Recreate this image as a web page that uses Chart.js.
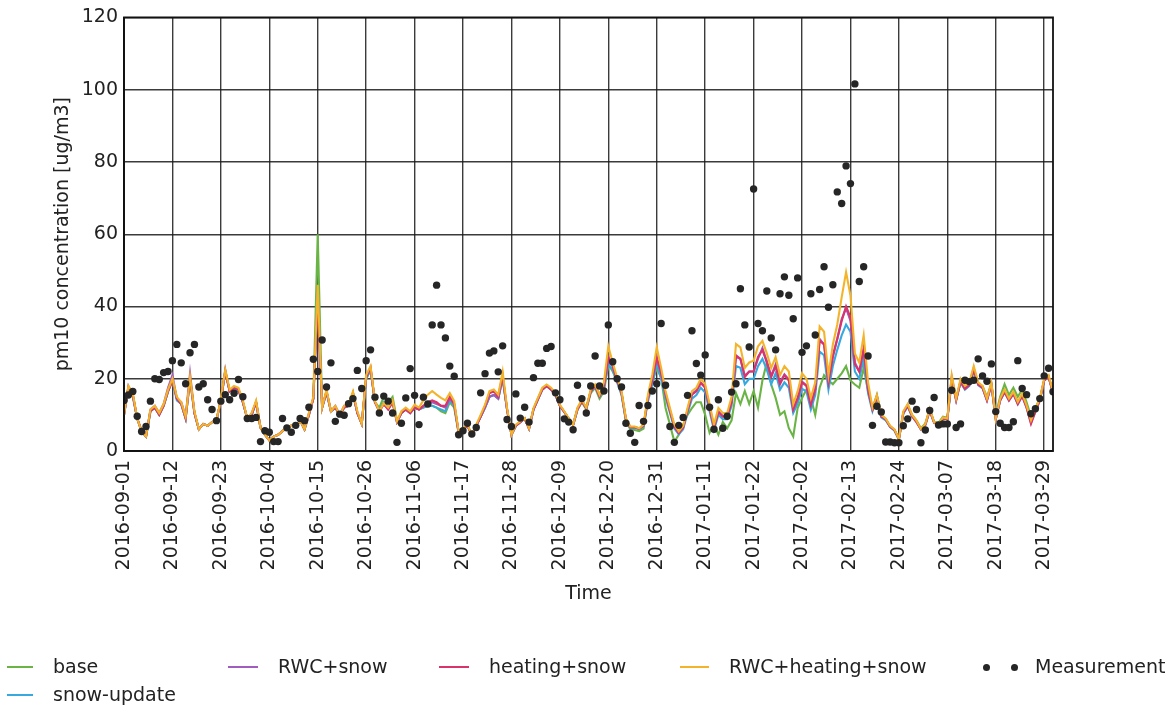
<!DOCTYPE html>
<html>
<head>
<meta charset="utf-8">
<title>PM10 concentration</title>
<script src="https://cdn.jsdelivr.net/npm/chart.js@4/dist/chart.umd.min.js"></script>
<style>
  html, body { margin: 0; padding: 0; background: #fff; }
  #wrap { position: relative; width: 1174px; height: 707px; overflow: hidden; }
  #chart { position: absolute; left: 0; top: 0; }
  .lg { position: absolute; font-family: "DejaVu Sans", sans-serif; font-size: 19px; color: #222; line-height: 22px; white-space: nowrap; }
  .lgline { position: absolute; height: 0; border-top: 2px solid; }
  .lgdot { position: absolute; width: 7px; height: 7px; border-radius: 50%; background: #262626; }
</style>
</head>
<body>
<div id="wrap">
  <canvas id="chart" width="1174" height="707"></canvas>
  <div id="legend"></div>
</div>
<script>
// Daily PM10 concentrations, 2016-09-01 .. 2017-03-31 (day index 0..211)
const startDate = '2016-09-01';
const tickLabels = [
  '2016-09-01', '2016-09-12', '2016-09-23', '2016-10-04', '2016-10-15',
  '2016-10-26', '2016-11-06', '2016-11-17', '2016-11-28', '2016-12-09',
  '2016-12-20', '2016-12-31', '2017-01-11', '2017-01-22', '2017-02-02',
  '2017-02-13', '2017-02-24', '2017-03-07', '2017-03-18', '2017-03-29'
];
const tickStepDays = 11;
const yTicks = [0, 20, 40, 60, 80, 100, 120];

const base = [
  10, 17.5, 15.5, 9, 5.5, 4, 11, 12, 10, 12.5,
  16.5, 19.5, 14.5, 13, 9, 20, 10.5, 6, 7.5, 7,
  8, 8.5, 14, 22, 16.5, 17.5, 17, 13.5, 9, 10,
  13.5, 6.5, 4.5, 3, 4, 4.5, 5.5, 6.5, 7, 6.5,
  8.5, 6, 10, 14.5, 60, 12, 16.5, 11, 12, 10,
  12, 12.5, 16, 10.5, 7.5, 20, 22.5, 13.5, 12, 15,
  13.5, 15, 8.5, 10.5, 11.5, 10.5, 12, 11.5, 12, 12.5,
  12.5, 12, 11, 10.5, 13.5, 12, 5, 6, 7, 4.5,
  7, 9.5, 12, 15, 15.5, 14.5, 20, 11.5, 4.5, 7,
  8, 9, 6.2, 11.5, 14.2, 17, 18, 17, 15.5, 12.5,
  10.8, 9, 7.2, 11.5, 13.5, 11.5, 16, 17.5, 14.5, 16.5,
  24, 22, 19.3, 16, 8.2, 6, 5.8, 5.5, 6.2, 14.7,
  19.3, 23, 20.3, 11.9, 7.3, 2.6, 4.5, 7.3, 10, 11.9,
  13.5, 13.5, 10, 5, 7.3, 4.5, 8, 6.3, 8.5, 16,
  13, 16.6, 13, 16.6, 12, 19.5, 24.5, 18.4, 14.7, 10,
  11, 6.3, 4, 11.9, 14.7, 17, 14.7, 10, 17.5, 21,
  19.5, 18.5, 20, 21.5, 23.5, 19.5, 18.4, 17.5, 23, 16.6,
  11.5, 15.5, 10, 8.8, 6.8, 5.8, 3.3, 10.5, 12.5, 10,
  8.4, 6.3, 7.6, 11.5, 8, 7.8, 9.5, 9.2, 19, 14.5,
  19, 17.5, 18.5, 22, 18.5, 18, 15, 18.5, 10, 15,
  18.5, 15.5, 17.5, 15, 17, 13.5, 9.5, 12, 14.5, 19.5,
  20.5, 16.5
];

const snowUpdate = [
  10, 17.5, 15, 9, 5.5, 4, 11, 12, 10, 12.5,
  16.5, 19.5, 14, 13, 9, 20, 10.5, 6, 7.5, 7,
  8, 8.5, 14, 22, 16.5, 17, 16.5, 13.5, 9, 10,
  13.5, 6.5, 4.5, 3, 4, 4.5, 5.5, 6.5, 7, 6.5,
  8.5, 6, 10, 14.5, 44, 12, 16, 11, 12, 10,
  12, 12.5, 16, 10.5, 7.5, 20, 22.5, 13.5, 11, 13.5,
  12, 13.5, 8, 10.5, 11.5, 10.5, 12, 11.5, 12, 12.5,
  12.5, 12, 11.5, 11, 14, 12.5, 5.2, 6, 7, 4.5,
  7, 9.5, 12, 15, 15.5, 14.5, 20, 11.5, 4.5, 7,
  8, 9, 6.2, 11.5, 14.2, 17, 18, 17, 15.5, 12.5,
  10.8, 9, 7.2, 11.5, 13.8, 11.8, 16.4, 17.8, 15, 17.5,
  24, 22.5, 19, 15.5, 8.5, 6.4, 6.4, 6, 6.8, 13.8,
  18.5, 24, 20, 14.8, 10.5, 6.2, 4.6, 6, 10.5, 14.5,
  15.5, 17.5, 16.2, 11, 5.8, 10, 8.8, 8.8, 12.5, 23.5,
  23, 18.5, 20, 20, 23.5, 25.5, 22.5, 18.5, 21.5, 17,
  19, 17.5, 10.5, 13.2, 17.2, 16.5, 11.5, 15.5, 27.5, 26.5,
  17, 23.5, 28, 32, 35, 33, 22, 20, 25.5, 16,
  11, 14.5, 9.3, 8.5, 6.6, 5.6, 3.2, 10.3, 12.3, 9.5,
  8, 6, 7.2, 11, 7.8, 7.3, 9, 8.8, 19.5, 14,
  19, 17, 18, 22.5, 18.2, 17.3, 14, 18.2, 8.8, 14,
  16.2, 14, 15.8, 13, 15.2, 12, 7.8, 11, 14, 19.5,
  20.5, 16
];

const rwcSnow = [
  10, 18, 15.5, 9, 5.5, 4, 11.5, 12.5, 10.5, 13,
  17.5, 21, 14.5, 13.5, 9.5, 21.5, 10.5, 6, 7.5, 7,
  8, 8.5, 14, 22.5, 16.5, 17.5, 17, 13.5, 9, 10.5,
  13.5, 6.5, 4.5, 3, 4, 4.5, 5.5, 6.5, 7, 6.5,
  8.5, 6, 10.5, 14.5, 43, 12, 16.5, 11, 12.5, 10,
  12.5, 12.5, 16, 10.5, 7.5, 20.5, 23, 13.5, 11, 13,
  11.5, 13.5, 8, 10.5, 11.5, 10.5, 12, 11.5, 12.5, 13,
  13.5, 13, 12.5, 12, 14.5, 13, 5.2, 6, 7, 4.5,
  7, 9.5, 12, 15, 15.5, 14.5, 20.5, 11.5, 4.5, 7,
  8, 9, 6.2, 11.5, 14.5, 17.2, 18.2, 17.2, 15.8, 12.5,
  10.8, 9, 7.2, 11.8, 14, 11.8, 16.6, 18, 15.3, 18,
  25, 23.5, 19.6, 16.2, 8.8, 6.6, 6.6, 6.2, 7.1, 14.8,
  20, 25.5, 21.5, 15.8, 11.2, 6.8, 5, 6.6, 11.4, 15.8,
  16.8, 19, 17.8, 12.2, 6.6, 11, 9.7, 9.6, 13.8, 26,
  25.5, 20.8, 22, 22, 25.5, 28.5, 24.8, 20.8, 24, 19,
  21.2, 19.8, 11.8, 14.8, 19.2, 18.2, 13, 17.2, 31, 29.5,
  19.2, 26.5, 31, 36.5, 39.5, 36, 24.5, 22, 28, 17.2,
  11.6, 15.2, 9.7, 8.8, 6.8, 5.8, 3.3, 10.7, 12.8, 9.8,
  8.2, 6, 7.3, 11.4, 7.9, 7.4, 9.1, 8.9, 20.5, 14.2,
  19.5, 17.5, 18.5, 23, 18.6, 17.6, 14.2, 18.6, 8.9, 14.2,
  16.6, 14.2, 16, 13.3, 15.5, 12.3, 8.2, 11.3, 14.2, 19.8,
  20.7, 16.2
];

const heatingSnow = [
  10, 17.5, 15.5, 9, 5.5, 4, 11, 12, 10, 12.5,
  16.5, 19.5, 14.5, 13, 9, 20, 10.5, 6, 7.5, 7,
  8, 8.5, 14, 22, 16.5, 17.5, 17, 13.5, 9, 10,
  13.5, 6.5, 4.5, 3, 4, 4.5, 5.5, 6.5, 7, 6.5,
  8.5, 6, 10, 14.5, 42, 12, 16.5, 11, 12, 10,
  12, 12.5, 16, 10.5, 7.5, 20.5, 23, 13.5, 11, 13,
  11.5, 13.5, 8, 10.5, 11.5, 10.5, 12, 11.5, 12.5, 13.5,
  14, 13.5, 12.5, 12.5, 15, 13, 5.2, 6, 7, 4.5,
  7, 9.5, 12.5, 16, 16.5, 15, 21, 11.5, 4.5, 7,
  8, 9, 6.2, 11.5, 14.2, 17, 18, 17, 15.5, 12.5,
  10.8, 9, 7.2, 11.5, 13.8, 11.8, 16.5, 18, 15.2, 18,
  26, 23.5, 19.5, 16, 8.8, 6.6, 6.6, 6.2, 7, 14.5,
  19.8, 26, 21.5, 15.8, 11.2, 6.8, 5, 6.5, 11.2, 15.6,
  16.5, 18.8, 17.5, 12, 6.5, 10.8, 9.5, 9.5, 13.5, 26.5,
  25.5, 20.5, 22, 22, 26, 28, 24.5, 20.5, 23.5, 18.5,
  21, 19.5, 11.5, 14.5, 19, 18, 12.8, 17, 30.5, 29.5,
  19, 26, 31, 36, 40, 37, 24, 22, 28.5, 17,
  11.5, 15, 9.5, 8.8, 6.8, 5.8, 3.3, 10.5, 12.5, 9.6,
  8, 6, 7.2, 11.2, 7.8, 7.3, 9, 8.8, 20, 14,
  19.2, 17.2, 18.2, 22.5, 18.4, 17.5, 14, 18.4, 8.8, 14,
  16.3, 14, 15.8, 13, 15.2, 12, 7.5, 10.8, 14, 19.5,
  20.5, 16
];

const rwcHeatingSnow = [
  10, 18, 16, 9, 5.5, 4, 11.5, 12.5, 10.5, 13,
  17, 20, 15, 13.5, 9.5, 20.5, 11, 6, 7.5, 7,
  8, 8.5, 14.5, 22.5, 17, 18, 17.5, 14, 9, 10.5,
  14, 6.5, 4.5, 3, 4, 4.5, 5.5, 6.5, 7, 6.5,
  8.5, 6, 10.5, 15, 46, 12, 17, 11, 12.5, 10,
  12.5, 13, 16.5, 11, 7.5, 21, 23.5, 13.8, 11, 13.3,
  12, 14, 8.2, 11, 12, 11, 12.8, 12, 14, 15.6,
  16.6, 15.6, 14.7, 14, 16, 13.8, 5.4, 6.3, 7.3, 4.5,
  7.3, 10, 12.8, 16.6, 17, 15.6, 22, 12, 4.5, 7.3,
  8.2, 9.1, 6.3, 11.9, 14.7, 17.5, 18.4, 17.5, 16, 12.8,
  11, 9.1, 7.3, 12, 14.2, 12, 17, 18.4, 15.6, 19,
  29, 24.5, 20.3, 16.6, 9.1, 6.8, 6.8, 6.3, 7.3, 15.6,
  21.2, 28.7, 23, 16.6, 11.9, 7.3, 5.4, 7, 12, 16.6,
  17.5, 20, 18.5, 13, 7.3, 11.9, 10.5, 10.5, 15, 29.6,
  28.7, 23, 24.5, 25, 29, 30.5, 27, 23, 26, 21,
  23.5, 22, 13, 16.5, 21.5, 20, 14.7, 19, 34.5, 33,
  21, 29.5, 35, 42.5, 49.5, 43, 27, 24.5, 32, 19,
  12, 15.5, 10, 9, 7, 6, 3.3, 11, 13, 10,
  8.4, 6.1, 7.5, 11.7, 8, 7.5, 9.3, 9, 21, 14.5,
  20, 18, 19, 23.5, 19, 18, 14.5, 19, 9, 14.5,
  17, 14.5, 16.4, 13.6, 15.9, 12.6, 8.5, 11.7, 14.5, 20,
  21, 16.4
];

const measurement = [
  14, 15.5, 16.5, 9.6, 5.4, 6.8, 13.8, 20, 19.8, 21.7,
  22, 25, 29.5, 24.4, 18.6, 27.2, 29.5, 17.7, 18.6, 14.2,
  11.5, 8.4, 13.8, 15.6, 14.2, 16, 19.8, 15, 9, 9,
  9.3, 2.6, 5.6, 5.2, 2.6, 2.6, 9, 6.4, 5.2, 7.1,
  9, 8.4, 12.1, 25.4, 22, 30.7, 17.7, 24.4, 8.2, 10.2,
  9.9, 13.1, 14.5, 22.3, 17.3, 25, 28, 14.9, 10.5, 15.2,
  13.8, 10.5, 2.4, 7.7, 14.7, 22.8, 15.4, 7.3, 14.9, 13,
  34.9, 45.9, 34.9, 31.3, 23.5, 20.7, 4.5, 5.6, 7.7, 4.7,
  6.5, 16.1, 21.4, 27.1, 27.7, 21.9, 29.1, 8.7, 6.8, 15.8,
  9.1, 12.1, 8, 20.3, 24.3, 24.3, 28.4, 28.9, 16.1, 14.2,
  8.9, 8, 5.9, 18.2, 14.5, 10.5, 18, 26.3, 18, 16.6,
  34.9, 24.7, 20, 17.7, 7.7, 4.9, 2.4, 12.6, 8.2, 12.6,
  16.6, 18.6, 35.3, 18.2, 6.8, 2.4, 7.1, 9.3, 15.4, 33.3,
  24.2, 21, 26.6, 12.1, 6, 14.2, 6.3, 9.6, 16.3, 18.6,
  44.9, 34.9, 28.8, 72.5, 35.3, 33.3, 44.3, 31.3, 28, 43.5,
  48.2, 43.1, 36.6, 47.9, 27.3, 29.1, 43.5, 32.1, 44.7, 51,
  39.8, 46, 71.7, 68.5, 78.9, 74, 101.6, 46.9, 51, 26.3,
  7.1, 12.4, 10.8, 2.5, 2.5, 2.3, 2.3, 7, 8.9, 13.8,
  11.5, 2.3, 5.8, 11.2, 14.8, 7.2, 7.5, 7.5, 16.8, 6.5,
  7.5, 19.6, 19.2, 19.6, 25.5, 20.8, 19.3, 24.1, 10.9, 7.7,
  6.5, 6.5, 8.1, 25, 17.3, 15.6, 10.3, 11.7, 14.5, 20.8,
  22.9, 16.4
];

const seriesNames = ['base', 'snow-update', 'RWC+snow', 'heating+snow', 'RWC+heating+snow', 'Measurement'];
const seriesColors = ['#6ab446', '#35a9e0', '#a15cbf', '#d8336a', '#f3b42c', '#262626'];

const toPoints = arr => arr.map((v, i) => ({ x: i, y: v }));

function lineSet(label, values, color, order) {
  return {
    label, data: toPoints(values), borderColor: color, backgroundColor: color,
    borderWidth: 2.1, pointRadius: 0, tension: 0, fill: false, order
  };
}

const datasets = [
  lineSet(seriesNames[0], base, seriesColors[0], 5),
  lineSet(seriesNames[1], snowUpdate, seriesColors[1], 4),
  lineSet(seriesNames[2], rwcSnow, seriesColors[2], 3),
  lineSet(seriesNames[3], heatingSnow, seriesColors[3], 2),
  lineSet(seriesNames[4], rwcHeatingSnow, seriesColors[4], 1),
  {
    label: seriesNames[5], data: toPoints(measurement), showLine: false,
    pointRadius: 3.7, pointBackgroundColor: seriesColors[5], pointBorderWidth: 0,
    borderColor: seriesColors[5], backgroundColor: seriesColors[5], order: 0
  }
];

// Full frame around the plotting area
const framePlugin = {
  id: 'frame',
  afterDatasetsDraw(chart) {
    const { ctx, chartArea: a } = chart;
    ctx.save();
    ctx.strokeStyle = '#111';
    ctx.lineWidth = 1.8;
    ctx.strokeRect(a.left, a.top, a.right - a.left, a.bottom - a.top);
    ctx.restore();
  }
};

Chart.defaults.font.family = '"DejaVu Sans", sans-serif';
Chart.defaults.font.size = 19;
Chart.defaults.color = '#222';

new Chart(document.getElementById('chart'), {
  type: 'line',
  data: { datasets },
  options: {
    responsive: false,
    animation: false,
    devicePixelRatio: 1,
    layout: { padding: { left: 52, top: 16, right: 121, bottom: 102 } },
    plugins: { legend: { display: false }, tooltip: { enabled: false } },
    scales: {
      x: {
        type: 'linear',
        min: 0,
        max: measurement.length - 1,
        afterBuildTicks: s => { s.ticks = tickLabels.map((_, i) => ({ value: i * tickStepDays })); },
        afterFit: s => { s.height = 154; },
        ticks: {
          autoSkip: false, minRotation: 90, maxRotation: 90, padding: 9,
          callback: v => tickLabels[Math.round(v / tickStepDays)]
        },
        grid: { color: 'rgba(25,25,25,0.85)', lineWidth: 1.4, drawTicks: false },
        border: { color: '#111', width: 1.8 },
        title: { display: true, text: 'Time', padding: { top: 0, bottom: 0 } }
      },
      y: {
        min: 0,
        max: 120,
        afterBuildTicks: s => { s.ticks = yTicks.map(v => ({ value: v })); },
        afterFit: s => { s.width = 72; },
        ticks: { padding: 6 },
        grid: { color: 'rgba(25,25,25,0.85)', lineWidth: 1.4, drawTicks: false },
        border: { color: '#111', width: 1.8 },
        title: { display: true, text: 'pm10 concentration [ug/m3]', padding: { top: 0, bottom: 0 } }
      }
    }
  },
  plugins: [framePlugin]
});

// Legend laid out in five columns below the chart
const legendItems = [
  { i: 0, lx: 7,   lw: 26, tx: 53,   y: 667 },
  { i: 1, lx: 7,   lw: 26, tx: 53,   y: 695 },
  { i: 2, lx: 228, lw: 30, tx: 278,  y: 667 },
  { i: 3, lx: 439, lw: 30, tx: 489,  y: 667 },
  { i: 4, lx: 680, lw: 29, tx: 729,  y: 667 },
  { i: 5, lx: 986, lw: 28, tx: 1035, y: 667, dots: true }
];
const lg = document.getElementById('legend');
legendItems.forEach(it => {
  if (it.dots) {
    [it.lx, it.lx + it.lw].forEach(cx => {
      const d = document.createElement('div');
      d.className = 'lgdot';
      d.style.left = (cx - 3.5) + 'px';
      d.style.top = (it.y - 3.5) + 'px';
      d.style.background = seriesColors[it.i];
      lg.appendChild(d);
    });
  } else {
    const l = document.createElement('div');
    l.className = 'lgline';
    l.style.left = it.lx + 'px';
    l.style.width = it.lw + 'px';
    l.style.top = (it.y - 1) + 'px';
    l.style.borderTopColor = seriesColors[it.i];
    lg.appendChild(l);
  }
  const t = document.createElement('div');
  t.className = 'lg';
  t.textContent = seriesNames[it.i];
  t.style.left = it.tx + 'px';
  t.style.top = (it.y - 12) + 'px';
  lg.appendChild(t);
});
</script>
</body>
</html>
